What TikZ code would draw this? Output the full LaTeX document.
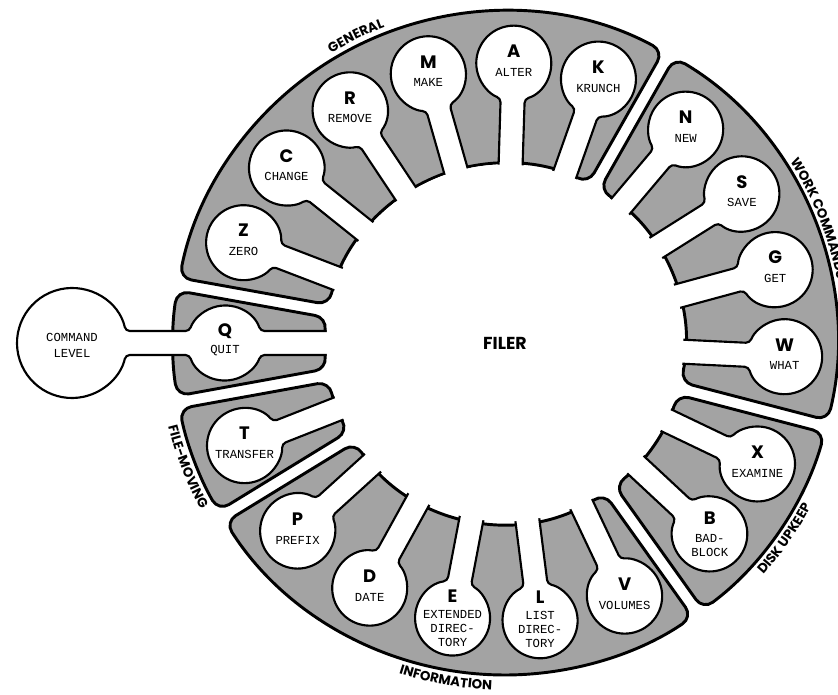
\documentclass[tikz,border=0pt]{standalone}
\usepackage{fontspec}
\usetikzlibrary{decorations.text}
\newfontfamily\letfont{Poppins}
\newfontfamily\wordfont{Liberation Mono}
\newcommand\grpfont{\letfont\bfseries\fontsize{10}{10}\selectfont}

\tikzset{
  band/.style={fill=black!36,draw=black,line width=2.2pt,rounded corners=9pt},
  keyhole/.style={fill=white,draw=black,line width=1.6pt,rounded corners=3pt},
  letter/.style={font=\letfont\bfseries\fontsize{13.5}{13.5}\selectfont,inner sep=0pt},
  word/.style={font=\wordfont\fontsize{9.2}{10.5}\selectfont,align=center,inner sep=0pt},
  grouplabel/.style={decorate,decoration={text along path,text align=center,
    text={|\grpfont|#1}}}
}

\begin{document}
\begin{tikzpicture}[x=0.75pt,y=0.75pt]
  \useasboundingbox (-505,-351) rectangle (333,343);
  % the six command groups
  \foreach \s/\e in {60.4/169.8,169.8/190.3,190.3/211.5,211.5/305.5,305.5/345.4,345.4/420.4}
    \draw[band] ({\s+1.12}:332) arc[start angle=\s+1.12,end angle=\e-1.12,radius=332]
      -- ({\e-2.07}:180) arc[start angle=\e-2.07,end angle=\s+2.07,radius=180] -- cycle;
  % one keyhole per command
  \foreach \a in {159,141.3,123.6,105.9,88.2,70.5,49.8,32.2,15.2,-2.8,-25.6,-43,
                  -64.7,-82.8,-100.8,-118.9,-137.8,-158.5}
    \draw[keyhole,rotate=\a] (175,-12) -- (244.48,-12)
      arc[start angle=-161.3,end angle=161.3,radius=37.5] -- (175,12);
  % quit leads out to command level
  \draw[keyhole] (-175,12) -- (-244.48,12) arc[start angle=18.7,end angle=161.3,radius=37.5]
    -- (-379.32,12) arc[start angle=12.6,end angle=347.4,radius=55]
    -- (-315.52,-12) arc[start angle=198.7,end angle=341.3,radius=37.5] -- (-175,-12);
  \fill[white] (0,0) circle[radius=178.5];
  \node[font=\letfont\bfseries\fontsize{13}{13}\selectfont] (filer) at (0,0) {FILER};
  \node[word,font=\wordfont\fontsize{9.2}{12}\selectfont] (cmdlevel) at (-433,-2) {COMMAND\\LEVEL};

  \foreach \a/\l/\w/\dl/\dw in {180/Q/QUIT/12/-8,159/Z/ZERO/12/-9,141.3/C/CHANGE/12/-9,
      123.6/R/REMOVE/12/-9,105.9/M/MAKE/12/-9,88.2/A/ALTER/12/-9,70.5/K/KRUNCH/12/-9,
      49.8/N/NEW/12/-9,32.2/S/SAVE/12/-9,15.2/G/GET/12/-9,-2.8/W/WHAT/12/-9,
      -25.6/X/EXAMINE/12/-9,-43/B/{BAD-\\BLOCK}/16/-12,-64.7/V/VOLUMES/12/-9,
      -82.8/L/{LIST\\DIREC-\\TORY}/24/-9,-100.8/E/{EXTENDED\\DIREC-\\TORY}/22/-10,
      -118.9/D/DATE/12/-9,-137.8/P/PREFIX/12/-9,-158.5/T/TRANSFER/12/-9}
  {
    \node[letter] (let\l) at ({280*cos(\a)},{280*sin(\a)+\dl}) {\l};
    \node[word] (word\l) at ({280*cos(\a)},{280*sin(\a)+\dw}) {\w};
  }

  % group names round the rim
  \path[grouplabel=GENERAL] (145.9:338) arc[start angle=145.9,end angle=85.9,radius=338];
  \path[grouplabel=WORK COMMANDS,decoration={text align=left}]
    (32.5:338) arc[start angle=32.5,end angle=-20,radius=338];
  \path[grouplabel=DISK UPKEEP] (-65:347) arc[start angle=-65,end angle=-5,radius=347];
  \path[grouplabel=INFORMATION] (-130:347) arc[start angle=-130,end angle=-70,radius=347];
  \path[grouplabel=FILE-MOVING] (-188.7:347) arc[start angle=-188.7,end angle=-128.7,radius=347];
\end{tikzpicture}
\end{document}
